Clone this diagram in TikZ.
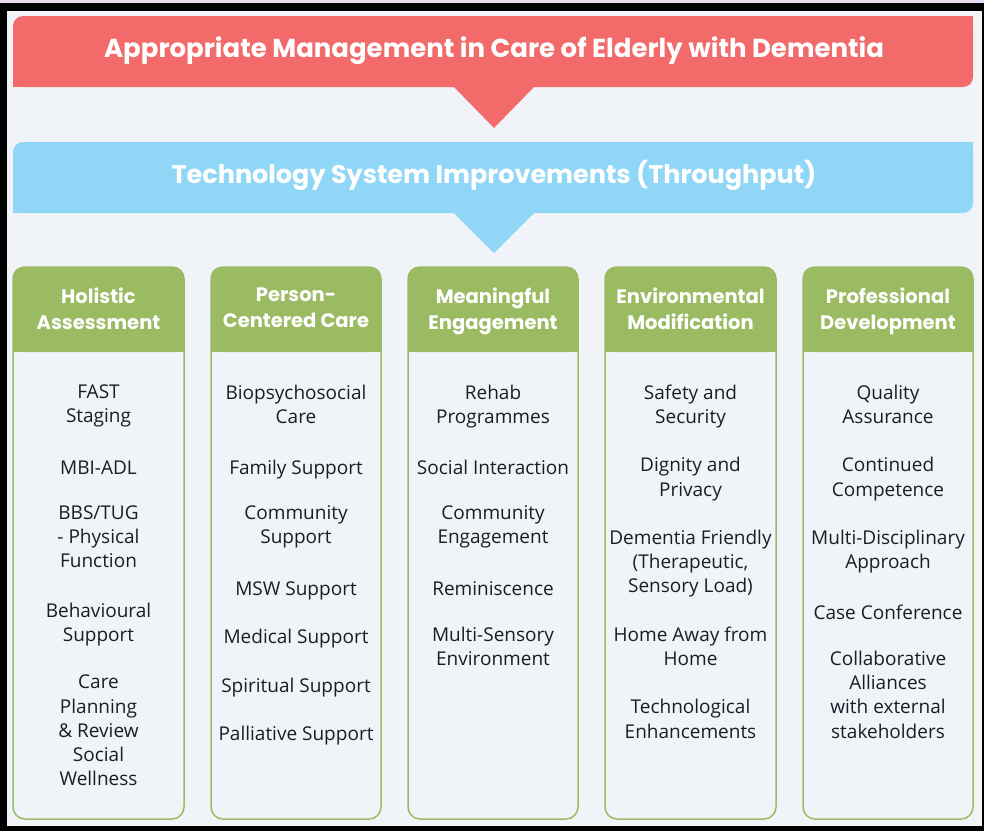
\documentclass[tikz,border=0pt]{standalone}
\usepackage{fontspec}
\setmainfont{Open Sans}
\newfontfamily\headfont{Poppins}
\usepackage{xcolor}

\definecolor{pagebg}{RGB}{240,244,248}
\definecolor{lilac}{RGB}{232,218,240}
\definecolor{redbar}{RGB}{242,106,106}
\definecolor{bluebar}{RGB}{144,214,246}
\definecolor{greenbar}{RGB}{155,187,98}
\definecolor{itemcol}{RGB}{28,28,38}

\begin{document}
\begin{tikzpicture}[x=1pt, y=-1pt]
\tikzstyle{bannertext}=[text=white, anchor=base, inner sep=0pt, font=\headfont\bfseries\fontsize{26}{30}\selectfont]
\tikzstyle{headtext}=[text=white, align=center, anchor=north, inner sep=0pt, font=\headfont\bfseries\fontsize{19.5}{26}\selectfont, execute at begin node=\strut]
\tikzstyle{itemtext}=[text=itemcol, align=center, anchor=north, inner sep=0pt, font=\fontsize{19}{24.2}\selectfont, execute at begin node=\strut]
\tikzstyle{bodybox}=[draw=greenbar, line width=1.5pt, rounded corners=12pt]
\tikzstyle{headbox}=[fill=greenbar, rounded corners=10pt]

% frame and page
\fill[black] (0,0) rectangle (984,831);
\fill[lilac] (0,0) rectangle (984,3);
\fill[pagebg] (7,11) rectangle (982,826);

% top banner
\fill[redbar, rounded corners=10pt] (13,16) rectangle (973,87);
\fill[redbar] (963,16) rectangle (973,26);
\fill[redbar] (13,77) rectangle (23,87);
\fill[redbar] (453,86) -- (535,86) -- (494,128) -- cycle;
\node[bannertext] (T0) at (494,57) {Appropriate Management in Care of Elderly with Dementia};

% second banner
\fill[bluebar, rounded corners=10pt] (13,142) rectangle (973,213);
\fill[bluebar] (963,142) rectangle (973,152);
\fill[bluebar] (13,203) rectangle (23,213);
\fill[bluebar] (453,212) -- (535,212) -- (494,253) -- cycle;
\node[bannertext, font=\headfont\bfseries\fontsize{25.5}{30}\selectfont] (T1) at (494,183) {Technology System Improvements (Throughput)};

% columns
\draw[bodybox] (13,267) rectangle (184,819);
\fill[headbox] (13,267) rectangle (184,352);
\fill[greenbar] (13,340) rectangle (184,352);
\draw[bodybox] (211,267) rectangle (381,819);
\fill[headbox] (211,267) rectangle (381,352);
\fill[greenbar] (211,340) rectangle (381,352);
\draw[bodybox] (408,267) rectangle (578,819);
\fill[headbox] (408,267) rectangle (578,352);
\fill[greenbar] (408,340) rectangle (578,352);
\draw[bodybox] (605,267) rectangle (776,819);
\fill[headbox] (605,267) rectangle (776,352);
\fill[greenbar] (605,340) rectangle (776,352);
\draw[bodybox] (803,267) rectangle (973,819);
\fill[headbox] (803,267) rectangle (973,352);
\fill[greenbar] (803,340) rectangle (973,352);

\node[headtext] (H1) at (98.5,288) {Holistic\\Assessment};
\node[headtext] (H2) at (296,288) {Person-\\Centered Care};
\node[headtext] (H3) at (493,288) {Meaningful\\Engagement};
\node[headtext] (H4) at (690.5,288) {Environmental\\Modification};
\node[headtext] (H5) at (888,288) {Professional\\Development};

% holistic assessment
\node[itemtext] (H1x1) at (98.5,384.6) {FAST\\Staging};
\node[itemtext] (H1x2) at (98.5,457.2) {MBI-ADL};
\node[itemtext] (H1x3) at (98.5,505.6) {BBS/TUG\\- Physical\\Function};
\node[itemtext] (H1x4) at (98.5,602.4) {Behavioural\\Support};
\node[itemtext] (H1x5) at (98.5,675) {Care\\Planning\\\&\ Review\\Social\\Wellness};

% person-centered care
\node[itemtext] (H2x1) at (296,384.6) {Biopsychosocial\\Care};
\node[itemtext] (H2x2) at (296,457.2) {Family Support};
\node[itemtext] (H2x3) at (296,505.6) {Community\\Support};
\node[itemtext] (H2x4) at (296,578.2) {MSW Support};
\node[itemtext] (H2x5) at (296,626.6) {Medical Support};
\node[itemtext] (H2x6) at (296,675) {Spiritual Support};
\node[itemtext] (H2x7) at (296,723.4) {Palliative Support};

% meaningful engagement
\node[itemtext] (H3x1) at (493,384.6) {Rehab\\Programmes};
\node[itemtext] (H3x2) at (493,457.2) {Social Interaction};
\node[itemtext] (H3x3) at (493,505.6) {Community\\Engagement};
\node[itemtext] (H3x4) at (493,578.2) {Reminiscence};
\node[itemtext] (H3x5) at (493,626.6) {Multi-Sensory\\Environment};

% environmental modification
\node[itemtext] (H4x1) at (690.5,384.6) {Safety and\\Security};
\node[itemtext] (H4x2) at (690.5,457.2) {Dignity and\\Privacy};
\node[itemtext] (H4x3) at (690.5,529.8) {Dementia Friendly\\(Therapeutic,\\Sensory Load)};
\node[itemtext] (H4x4) at (690.5,626.6) {Home Away from\\Home};
\node[itemtext] (H4x5) at (690.5,699.2) {Technological\\Enhancements};

% professional development
\node[itemtext] (H5x1) at (888,384.6) {Quality\\Assurance};
\node[itemtext] (H5x2) at (888,457.2) {Continued\\Competence};
\node[itemtext] (H5x3) at (888,529.8) {Multi-Disciplinary\\Approach};
\node[itemtext] (H5x4) at (888,602.4) {Case Conference};
\node[itemtext] (H5x5) at (888,650.8) {Collaborative\\Alliances\\with external\\stakeholders};
\end{tikzpicture}
\end{document}
